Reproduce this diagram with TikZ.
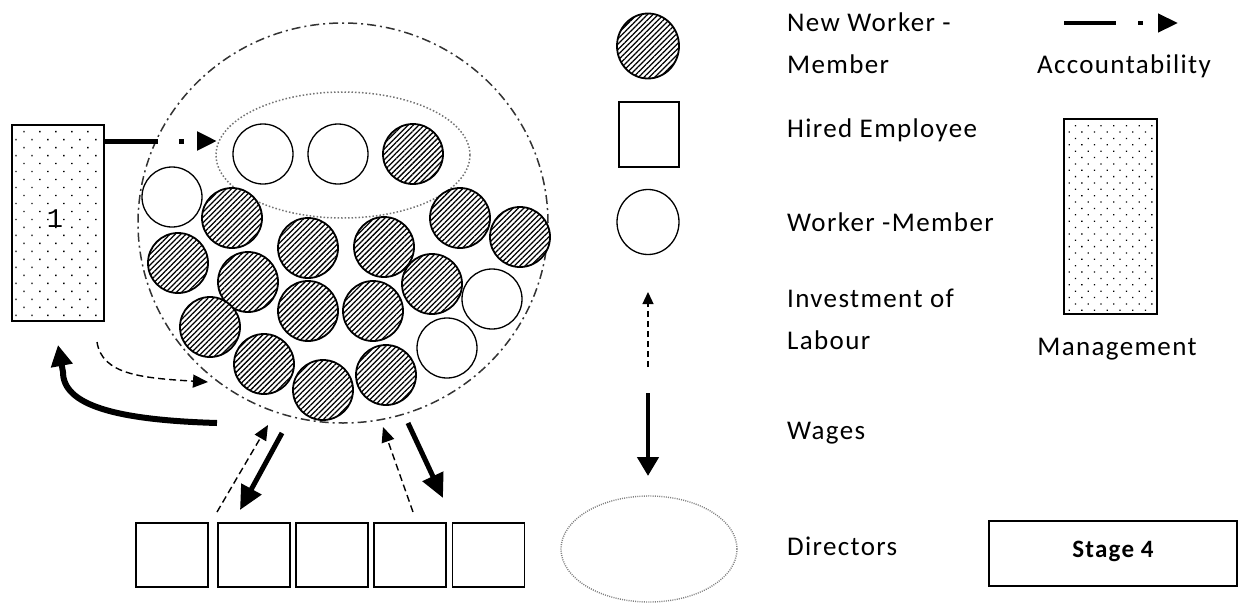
\documentclass[tikz,border=0pt]{standalone}
\usepackage{fontspec}
\setmainfont{Carlito}[LetterSpace=5]
\newfontfamily\onefont{Liberation Mono}
\usetikzlibrary{arrows.meta,patterns.meta,shapes.geometric}
\tikzset{
  lbl/.style={inner sep=0pt, font=\fontsize{27}{30}\selectfont},
  hatchc/.style={circle, minimum size=60pt, inner sep=0pt, draw=black, line width=1.8pt,
    preaction={fill=white}, pattern={Lines[angle=45,distance=3.8pt,line width=1.25pt]}},
  wmc/.style={circle, minimum size=60pt, inner sep=0pt, draw=black, line width=1.3pt, fill=white},
  hired/.style={rectangle, minimum width=72pt, minimum height=64pt, inner sep=0pt, draw=black, line width=1.5pt},
  mgmtbox/.style={rectangle, inner sep=0pt, draw=black, line width=1.5pt,
    pattern={Dots[angle=45,distance=11.3pt,radius=1pt]}},
  accarrow/.style={line width=5pt, dash pattern=on 53pt off 21pt on 5pt off 40pt,
    -{Triangle[length=20pt,width=18pt]}},
  dasharr/.style={line width=1.4pt, dash pattern=on 7pt off 4pt, -{Triangle[length=15pt,width=13pt]}},
  thickarr/.style={line width=5pt, -{Triangle[length=24pt,width=22pt]}},
}
\begin{document}
\begin{tikzpicture}[x=1pt,y=-1pt]
\useasboundingbox (0,0) rectangle (1240,603);

% management box
\node[mgmtbox, minimum width=92pt, minimum height=196pt] (mgmt) at (58,223) {};
\node[inner sep=0pt, font=\onefont\fontsize{27}{28}\selectfont] (one) at (55,219) {1};

% big circle
\node[ellipse, minimum width=410pt, minimum height=400pt, inner sep=0pt, draw=black!80,
  line width=1.5pt, dash pattern=on 9pt off 4pt on 2pt off 4pt] (big) at (343,223) {};
% new members ellipse
\node[ellipse, minimum width=254pt, minimum height=126pt, inner sep=0pt, draw=black!55,
  line width=1.5pt, dash pattern=on 1.5pt off 2pt] (newell) at (343,155) {};

\node[wmc] (n1) at (263,154) {};
\node[wmc] (n2) at (338,154) {};
\node[hatchc] (n3) at (413,154) {};

% members
\node[wmc] (w1) at (172,197) {};
\node[wmc] (w2) at (492,299) {};
\node[wmc] (w3) at (447,348) {};
\node[hatchc] (h1) at (232,218) {};
\node[hatchc] (h2) at (308,248) {};
\node[hatchc] (h3) at (384,247) {};
\node[hatchc] (h4) at (460,218) {};
\node[hatchc] (h5) at (520,237) {};
\node[hatchc] (h6) at (178,263) {};
\node[hatchc] (h7) at (248,282) {};
\node[hatchc] (h8) at (432,284) {};
\node[hatchc] (h9) at (308,311) {};
\node[hatchc] (h10) at (373,311) {};
\node[hatchc] (h11) at (210,327) {};
\node[hatchc] (h12) at (264,364) {};
\node[hatchc] (h13) at (386,375) {};
\node[hatchc] (h14) at (323,390) {};

% accountability
\coordinate (acct) at (217,141);
\draw[accarrow] (mgmt.east |- acct) -- (acct);

% curved arrows near management
\coordinate (cw1) at (217,423);
\draw[line width=6pt, -{Triangle[length=21pt,width=21pt]}] (cw1) .. controls (115,420) and (63,405) .. (63,372) -- (mgmt.south |- 0,345);
\coordinate (cd1) at (97,342);
\coordinate (cd2) at (208,382);
\draw[dasharr] (cd1) .. controls (102,374) and (140,378) .. (cd2);

% hired employees
\node[hired] (e1) at (172,555) {};
\node[hired] (e2) at (254,555) {};
\node[hired] (e3) at (332,555) {};
\node[hired] (e4) at (410,555) {};
\node[hired] (e5) at (488.5,555) {};

\coordinate (a1s) at (217,512); \coordinate (a1e) at (268,425);
\coordinate (b1s) at (282,433); \coordinate (b1e) at (240,510);
\coordinate (a2s) at (413,512); \coordinate (a2e) at (383,427);
\coordinate (b2s) at (408,423); \coordinate (b2e) at (443,498);
\draw[dasharr] (a1s) -- (a1e);
\draw[thickarr] (b1s) -- (b1e);
\draw[dasharr] (a2s) -- (a2e);
\draw[thickarr] (b2s) -- (b2e);

% legend symbols
\node[ellipse, minimum width=62pt, minimum height=65pt, inner sep=0pt, draw=black, line width=1.8pt,
  pattern={Lines[angle=45,distance=3.8pt,line width=1.25pt]}] (lnew) at (648,46) {};
\node[hired, minimum width=60pt, minimum height=65pt] (lhired) at (649,134.5) {};
\node[ellipse, minimum width=62pt, minimum height=65pt, inner sep=0pt, draw=black, line width=1.3pt] (lwm) at (648,222) {};
\coordinate (linvs) at (648,367); \coordinate (linve) at (648,292);
\draw[line width=1.3pt, dash pattern=on 6pt off 4pt, -{Triangle[length=12pt,width=11pt]}] (linvs) -- (linve);
\coordinate (lwgs) at (648,393); \coordinate (lwge) at (648,476);
\draw[line width=4.5pt, -{Triangle[length=19pt,width=21pt]}] (lwgs) -- (lwge);
\node[ellipse, minimum width=176pt, minimum height=106pt, inner sep=0pt, draw=black!50,
  line width=1.4pt, dash pattern=on 1pt off 1.2pt] (ldir) at (649,549) {};

% legend texts
\node[lbl, anchor=base west] (t1) at (787,31) {New Worker -};
\node[lbl, anchor=base west] (t2) at (787,73) {Member};
\node[lbl, anchor=base west] (t3) at (787,137) {Hired Employee};
\node[lbl, anchor=base west] (t4) at (787,231) {Worker -Member};
\node[lbl, anchor=base west] (t5) at (787,307) {Investment of};
\node[lbl, anchor=base west] (t6) at (787,349) {Labour};
\node[lbl, anchor=base west] (t7) at (787,439) {Wages};
\node[lbl, anchor=base west] (t8) at (787,555) {Directors};

% right legend
\coordinate (lacs) at (1064,23); \coordinate (lace) at (1178,23);
\draw[accarrow, line width=4.5pt, dash pattern=on 52pt off 22pt on 5pt off 40pt] (lacs) -- (lace);
\node[lbl, anchor=base] (tacc) at (1124,73) {Accountability};
\node[mgmtbox, minimum width=93pt, minimum height=195pt,
  pattern={Dots[angle=45,distance=9pt,radius=0.9pt]}] (lmgmt) at (1110.5,216.5) {};
\node[lbl, anchor=base] (tmgmt) at (1117,355) {Management};
\node[rectangle, draw=black, line width=1.6pt, minimum width=248pt, minimum height=65pt, inner sep=0pt] (stage) at (1113,553.5) {};
\node[inner sep=0pt, anchor=base, font=\bfseries\fontsize{25}{28}\selectfont] (tstage) at (1113,557) {Stage 4};
\end{tikzpicture}
\end{document}
